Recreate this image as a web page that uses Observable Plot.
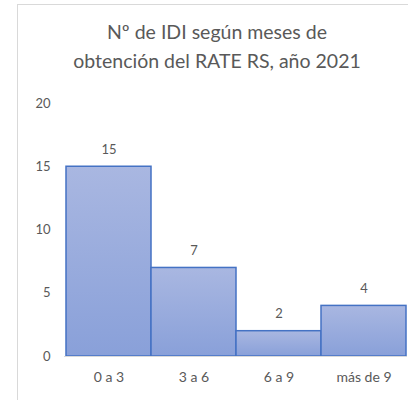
<!DOCTYPE html>
<html><head><meta charset="utf-8">
<script src="https://cdn.jsdelivr.net/npm/d3@7"></script>
<script src="https://cdn.jsdelivr.net/npm/@observablehq/plot@0.6"></script>
<style>
body{margin:0;background:#fff;font-family:Lato,"Open Sans",sans-serif;}
#wrap{position:relative;width:408px;height:400px;overflow:hidden;}
#frame{position:absolute;left:17px;top:4px;width:420px;height:420px;border:1px solid #d9d9d9;box-sizing:border-box;}
#title{position:absolute;left:17px;width:400px;top:17px;text-align:center;font-size:19.5px;line-height:29px;color:#595959;}
#chart{position:absolute;left:0;top:90px;}
</style></head>
<body><div id="wrap"><div id="frame"></div><div id="title">Nº de IDI según meses de<br>obtención del RATE RS, año 2021</div><div id="chart"></div></div>
<script>
const categories = ["0 a 3","3 a 6","6 a 9","más de 9"];
const values = [15, 7, 2, 4];
const yTicks = [0, 5, 10, 15, 20];
const data = categories.map((c, i) => ({cat: c, val: values[i]}));

const defs = () => {
  const s = d3.create("svg:defs");
  const g = s.append("linearGradient").attr("id","barGrad").attr("x1",0).attr("y1",0).attr("x2",0).attr("y2",1);
  g.append("stop").attr("offset","0%").attr("stop-color","#a9b7e1");
  g.append("stop").attr("offset","100%").attr("stop-color","#89a0d9");
  return s.node();
};

const plot = Plot.plot({
  width: 408, height: 310,
  marginTop: 13, marginBottom: 44, marginLeft: 64, marginRight: 1,
  style: {fontFamily: "Lato, 'Open Sans', sans-serif", fontSize: "13px", color: "#595959", background: "transparent"},
  x: {domain: categories, padding: 0, label: null, tickSize: 0, tickPadding: 16},
  y: {domain: [0, 20], ticks: yTicks, label: null, tickSize: 0, tickPadding: 14},
  marks: [
    defs,
    Plot.barY(data, {x: "cat", y: "val", fill: "url(#barGrad)", stroke: "#4472c4", strokeWidth: 1.5}),
    Plot.ruleY([0], {stroke: "#d9d9d9"}),
    Plot.axisX({tickSize: 0, tickPadding: 16, fontSize: 14, label: null}),
    Plot.text(data, {x: "cat", y: "val", text: d => String(d.val), dy: -17, fill: "#595959", fontSize: 13})
  ]
});
document.getElementById("chart").appendChild(plot);
</script></body></html>
